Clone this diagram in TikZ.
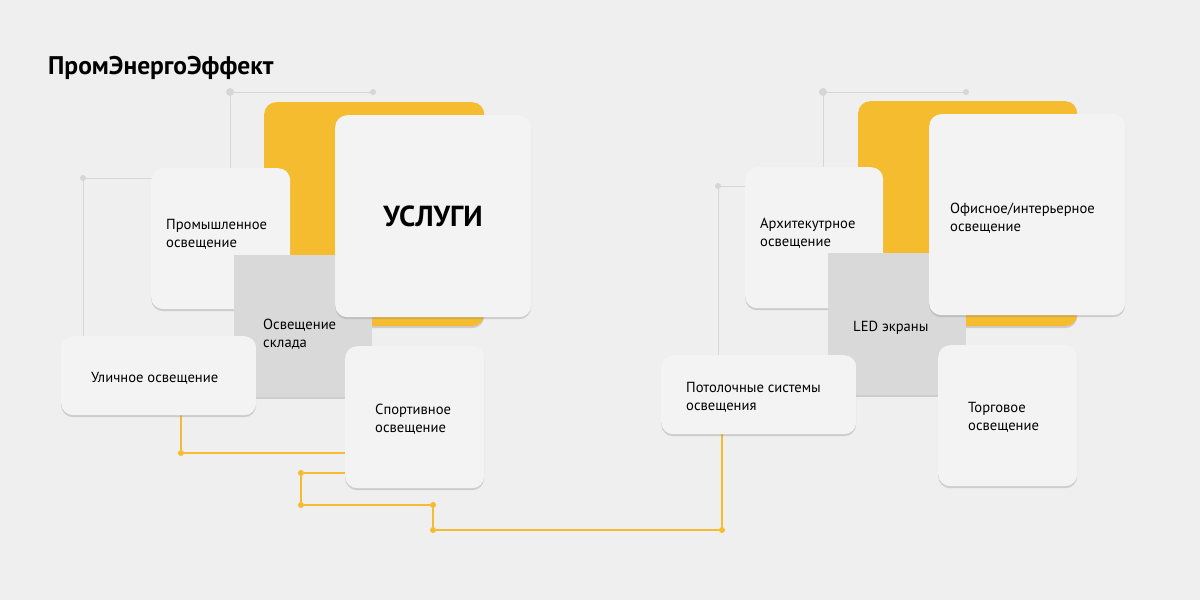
\documentclass[tikz,border=0pt]{standalone}
\usepackage{fontspec}
\setmainfont{PT Sans}
\usepackage{xcolor}
\usetikzlibrary{shadows}
\definecolor{bgcol}{HTML}{EFEFEF}
\definecolor{cardcol}{HTML}{F4F3F4}
\definecolor{greycard}{HTML}{D9D9D9}
\definecolor{mustard}{HTML}{F6BC30}
\definecolor{wire}{HTML}{D6D6D6}

\begin{document}
\begin{tikzpicture}[x=1pt,y=-1pt]
    \tikzstyle{card}=[anchor=north west,rounded corners=12pt,fill=cardcol,inner sep=0pt,
        drop shadow={opacity=0.3,shadow xshift=0pt,shadow yshift=-2pt}]
    \tikzstyle{back card}=[card,fill=mustard,drop shadow={opacity=0}]
    \tikzstyle{grey card}=[card,fill=greycard,rounded corners=0pt]
    \tikzstyle{txt}=[anchor=west,align=left,font=\fontsize{14.6}{18}\selectfont,inner sep=0pt]
    \tikzstyle{grey wire}=[draw=wire,line width=1pt]
    \tikzstyle{gold wire}=[draw=mustard,line width=1.3pt]
    \tikzstyle{gdot}=[circle,fill=wire,inner sep=0pt,minimum size=6pt]
    \tikzstyle{ydot}=[circle,fill=mustard,inner sep=0pt,minimum size=6pt]

    \useasboundingbox[fill=bgcol] (0,0) rectangle (1200,600);

    \node[anchor=west,inner sep=0pt,font=\fontsize{25.5}{28}\selectfont\bfseries] (title) at (48,68) {ПромЭнергоЭффект};

    % Draw the grey wires
    \node[gdot,minimum size=8pt] (g1) at (230,92) {};
    \node[gdot] (g2) at (373,92) {};
    \node[gdot] (g3) at (83,178) {};
    \node[gdot,minimum size=8pt] (g4) at (823,92) {};
    \node[gdot] (g5) at (966,92) {};
    \node[gdot] (g6) at (718,186) {};
    \coordinate (c1) at (230,170);
    \coordinate (c2) at (153,178);
    \coordinate (c3) at (83,338);
    \coordinate (c4) at (823,170);
    \coordinate (c5) at (747,186);
    \coordinate (c6) at (718,357);
    \draw[grey wire] (c1) -- (g1) -- (g2);
    \draw[grey wire] (c2) -- (g3) -- (c3);
    \draw[grey wire] (c4) -- (g4) -- (g5);
    \draw[grey wire] (c5) -- (g6) -- (c6);

    % Draw the gold wires
    \node[ydot] (y1) at (181,453) {};
    \node[ydot] (y2) at (301,473) {};
    \node[ydot] (y3) at (301,505) {};
    \node[ydot] (y4) at (433,505) {};
    \node[ydot] (y5) at (433,530) {};
    \node[ydot] (y6) at (722,530) {};
    \coordinate (d1) at (181,413);
    \coordinate (d2) at (350,453);
    \coordinate (d3) at (350,473);
    \coordinate (d4) at (722,432);
    \draw[gold wire] (d1) -- (y1) -- (d2);
    \draw[gold wire] (d3) -- (y2) -- (y3) -- (y4) -- (y5) -- (y6) -- (d4);

    % Draw the left cards
    \node[back card,minimum width=220pt,minimum height=224pt] (lback) at (264,102) {};
    \node[card,minimum width=139pt,minimum height=141pt] (prom) at (151,168) {};
    \node[grey card,minimum width=138pt,minimum height=142pt] (sklad) at (234,255) {};
    \node[card,minimum width=196pt,minimum height=202pt] (uslugi) at (335,115) {};
    \node[card,minimum width=195pt,minimum height=79pt] (ulica) at (61,336) {};
    \node[card,minimum width=139pt,minimum height=142pt] (sport) at (345,346) {};

    % Draw the right cards
    \node[back card,minimum width=219pt,minimum height=225pt] (rback) at (858,101) {};
    \node[card,minimum width=138pt,minimum height=141pt] (arch) at (745,167) {};
    \node[grey card,minimum width=138pt,minimum height=142pt] (led) at (828,253) {};
    \node[card,minimum width=196pt,minimum height=201pt] (ofis) at (929,114) {};
    \node[card,minimum width=195pt,minimum height=79pt] (potol) at (661,355) {};
    \node[card,minimum width=139pt,minimum height=141pt] (torg) at (938,345) {};

    % Annotate the cards
    \node[font=\fontsize{29}{32}\selectfont\bfseries] (uslugitxt) at (433,216) {УСЛУГИ};
    \node[txt] (promtxt) at (166,234) {Промышленное\\освещение};
    \node[txt] (skladtxt) at (263,334) {Освещение\\склада};
    \node[txt] (ulicatxt) at (91,378) {Уличное освещение};
    \node[txt] (sporttxt) at (375,419) {Спортивное\\освещение};
    \node[txt] (archtxt) at (760,233) {Архитекутрное\\освещение};
    \node[txt] (ofistxt) at (950,218) {Офисное/интерьерное\\освещение};
    \node[txt] (ledtxt) at (853,328) {LED экраны};
    \node[txt] (potoltxt) at (686,397) {Потолочные системы\\освещения};
    \node[txt] (torgtxt) at (968,417) {Торговое\\освещение};
\end{tikzpicture}
\end{document}
